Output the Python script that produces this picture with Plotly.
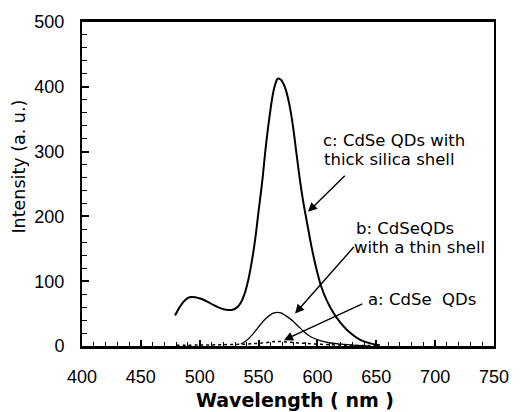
import plotly.graph_objects as go

# ---- data ----
wl_c = [479, 483, 487, 492, 497, 501, 506, 512, 518, 524, 528, 532, 535, 538, 541, 544, 547,
        550, 553, 556, 559, 562, 564, 566, 567, 569, 571, 573, 576, 579, 582, 585, 588, 591,
        595, 599, 603, 608, 614, 620, 628, 636, 645, 653]
int_c = [47, 60, 70, 75.5, 75, 73, 69, 63, 58, 55.5, 56, 60, 67, 80, 100, 128, 163,
         208, 252, 305, 350, 387, 403, 412, 413, 411, 405, 396, 374, 342, 300, 258, 222, 192,
         153, 120, 93, 70, 50, 35, 20, 10, 4, 1]

wl_b = [535, 540, 544, 548, 552, 556, 560, 563, 566, 569, 572, 576, 580, 584, 588, 592, 597,
        603, 610, 620, 630, 642]
int_b = [3, 9, 16, 25, 34, 42, 48, 51, 52, 51, 48, 43, 37, 30, 23, 17, 12, 8, 5, 3, 1.5, 0.5]

wl_a = [480, 500, 520, 540, 555, 565, 575, 590, 610, 630, 650]
int_a = [1, 1.5, 2, 3, 5, 7, 6, 4, 2, 1, 0.5]

x_ticks = [400, 450, 500, 550, 600, 650, 700, 750]
y_ticks = [0, 100, 200, 300, 400, 500]

labels = {
    "c": ["c: CdSe QDs with", "thick silica shell"],
    "b": ["b: CdSeQDs", "with a thin shell"],
    "a": ["a: CdSe  QDs"],
}

TXT = "DejaVu Sans"
TICKF = "Liberation Sans, Arial, sans-serif"

fig = go.Figure()
fig.add_trace(go.Scatter(x=wl_a, y=int_a, mode="lines", line=dict(color="black", width=1.5, dash="dot", shape="spline"),
                         showlegend=False))
fig.add_trace(go.Scatter(x=wl_b, y=int_b, mode="lines", line=dict(color="black", width=1.3, shape="spline"),
                         showlegend=False))
fig.add_trace(go.Scatter(x=wl_c, y=int_c, mode="lines", line=dict(color="black", width=2, shape="spline"),
                         showlegend=False))

ann = []
def txt(x, y, s, size=16.5):
    ann.append(dict(x=x, y=y, xref="x", yref="y", text=s, showarrow=False, xanchor="left", yanchor="middle",
                    font=dict(family=TXT, size=size, color="black"), borderpad=0, borderwidth=0))

def arrow(x, y, ax, ay):
    ann.append(dict(x=x, y=y, ax=ax, ay=ay, xref="x", yref="y", axref="x", ayref="y", text="",
                    showarrow=True, arrowhead=2, arrowsize=1.3, arrowwidth=1.4, arrowcolor="black", standoff=0))

txt(604.5, 317, labels["c"][0])
txt(605.3, 288, labels["c"][1])
txt(632.8, 182, labels["b"][0])
txt(631, 152, labels["b"][1])
txt(642.7, 72, labels["a"][0])

arrow(592, 207, 624.5, 265)
arrow(581, 50, 632, 155)
arrow(571.5, 9, 639.4, 66)

# axis titles
ann.append(dict(x=0.518, y=-0.166, xref="paper", yref="paper", text="<b>Wavelength ( nm )</b>", showarrow=False,
                xanchor="center", yanchor="middle", font=dict(family=TXT, size=19, color="black")))
ann.append(dict(x=-0.152, y=0.555, xref="paper", yref="paper", text="Intensity (a. u.)", showarrow=False,
                textangle=-90, xanchor="center", yanchor="middle", font=dict(family=TXT, size=17.5, color="black")))

fig.update_layout(
    width=521, height=412,
    margin=dict(l=82, r=18, t=20, b=66),
    paper_bgcolor="white", plot_bgcolor="white",
    annotations=ann,
    showlegend=False,
)
fig.update_xaxes(range=[400, 750], tickvals=x_ticks, ticks="inside", ticklen=6, tickwidth=1.5, tickcolor="black",
                 minor=dict(dtick=10, ticks="inside", ticklen=4, tickwidth=1.2, tickcolor="black"),
                 showline=True, linewidth=2.5, linecolor="black", mirror=True, showgrid=False, zeroline=False,
                 tickfont=dict(family=TICKF, size=18, color="black"), ticklabelstandoff=13)
fig.update_yaxes(range=[0, 500], tickvals=y_ticks, ticks="inside", ticklen=7, tickwidth=1.5, tickcolor="black",
                 minor=dict(dtick=20, ticks="inside", ticklen=5, tickwidth=1.2, tickcolor="black"),
                 showline=True, linewidth=2, linecolor="black", mirror=True, showgrid=False, zeroline=False,
                 tickfont=dict(family=TICKF, size=18, color="black"), ticklabelstandoff=12)

fig.write_html("out.html")
